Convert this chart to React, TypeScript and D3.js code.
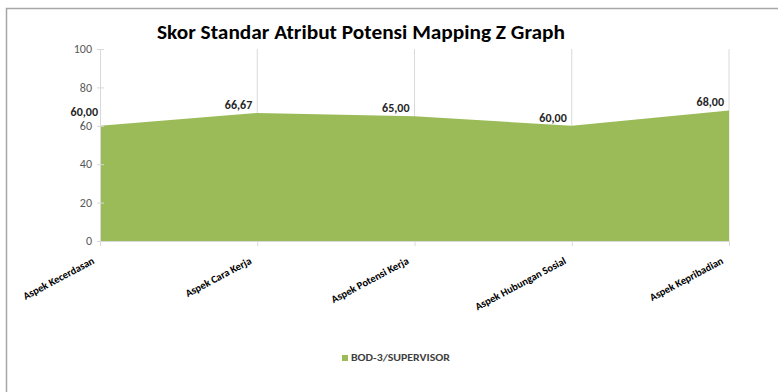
import React, { useEffect, useRef } from 'react';
import * as d3 from 'd3';

const categories = ['Aspek Kecerdasan', 'Aspek Cara Kerja', 'Aspek Potensi Kerja', 'Aspek Hubungan Sosial', 'Aspek Kepribadian'];
const values = [60, 66.67, 65, 60, 68];
const valueLabels = ['60,00', '66,67', '65,00', '60,00', '68,00'];
const yTicks = [0, 20, 40, 60, 80, 100];
const seriesName = 'BOD-3/SUPERVISOR';
const title = 'Skor Standar Atribut Potensi Mapping Z Graph';

const FONT = "Calibri, Carlito, 'Open Sans', 'Noto Sans', sans-serif";
const GREEN = '#9bbb59';

const App: React.FC = () => {
	const svgRef = useRef<SVGSVGElement>(null);

	useEffect(() => {
		if (svgRef.current == null) return;
		const width = 778;
		const height = 392;
		const svg = d3.select(svgRef.current)
			.attr('width', width)
			.attr('height', height);
		svg.selectAll('*').remove();

		// chart frame (right/bottom edges fall outside the picture)
		svg.append('rect')
			.attr('x', 6.5)
			.attr('y', 8.5)
			.attr('width', 820)
			.attr('height', 420)
			.attr('fill', '#fff')
			.attr('stroke', '#a6a6a6')
			.attr('stroke-width', 1.5);

		svg.append('text')
			.attr('x', 361)
			.attr('y', 39)
			.attr('text-anchor', 'middle')
			.attr('textLength', 408)
			.attr('lengthAdjust', 'spacingAndGlyphs')
			.style('font-family', FONT)
			.style('font-weight', 'bold')
			.style('font-size', '20px')
			.style('fill', '#000')
			.text(title);

		const x = d3.scalePoint<string>()
			.domain(categories)
			.range([100, 729]);

		const y = d3.scaleLinear()
			.domain([0, 100])
			.range([241, 49]);

		// vertical gridlines at categories
		categories.slice(1).forEach(c => {
			svg.append('line')
				.attr('x1', x(c)!)
				.attr('x2', x(c)!)
				.attr('y1', y(100))
				.attr('y2', y(0))
				.attr('stroke', '#d9d9d9')
				.attr('stroke-width', 1);
		});

		const area = d3.area<number>()
			.x((_, i) => x(categories[i])!)
			.y0(y(0))
			.y1(d => y(d));

		svg.append('path')
			.datum(values)
			.attr('d', area)
			.attr('fill', GREEN);

		// y axis
		svg.append('line')
			.attr('x1', 100.5).attr('x2', 100.5)
			.attr('y1', y(100)).attr('y2', y(0))
			.attr('stroke', '#d9d9d9');
		yTicks.forEach(t => {
			svg.append('line')
				.attr('x1', 97).attr('x2', 104)
				.attr('y1', y(t) + 0.5).attr('y2', y(t) + 0.5)
				.attr('stroke', '#d9d9d9');
			svg.append('text')
				.attr('x', 92)
				.attr('y', y(t))
				.attr('dy', '0.35em')
				.attr('text-anchor', 'end')
				.style('font-family', FONT)
				.style('font-size', '12px')
				.style('fill', '#595959')
				.text(t);
		});

		// x axis
		svg.append('line')
			.attr('x1', 100).attr('x2', 729)
			.attr('y1', y(0) + 0.5).attr('y2', y(0) + 0.5)
			.attr('stroke', '#d9d9d9');
		categories.forEach(c => {
			svg.append('line')
				.attr('x1', x(c)! + 0.5).attr('x2', x(c)! + 0.5)
				.attr('y1', y(0)).attr('y2', y(0) + 5)
				.attr('stroke', '#d9d9d9');
			svg.append('text')
				.attr('transform', `translate(${x(c)! - 5},${263}) rotate(-28)`)
				.attr('text-anchor', 'end')
				.style('font-family', FONT)
				.style('font-weight', 'bold')
				.style('font-size', '10.5px')
				.style('fill', '#000')
				.text(c);
		});

		// data labels
		values.forEach((v, i) => {
			const px = x(categories[i])!;
			const first = i === 0;
			svg.append('text')
				.attr('x', first ? px - 2 : px - 5)
				.attr('y', first ? y(v) - 10 : y(v) - 4)
				.attr('text-anchor', 'end')
				.style('font-family', FONT)
				.style('font-weight', 'bold')
				.style('font-size', '12px')
				.style('fill', '#262626')
				.text(valueLabels[i]);
		});

		// legend
		svg.append('rect')
			.attr('x', 342)
			.attr('y', 355)
			.attr('width', 6)
			.attr('height', 6)
			.attr('fill', GREEN);
		svg.append('text')
			.attr('x', 351)
			.attr('y', 358)
			.attr('dy', '0.35em')
			.attr('textLength', 99)
			.attr('lengthAdjust', 'spacingAndGlyphs')
			.style('font-family', FONT)
			.style('font-weight', 'bold')
			.style('font-size', '9.5px')
			.style('fill', '#404040')
			.text(seriesName);
	}, []);

	return (
		<>
			<style>{'body{margin:0}'}</style>
			<svg ref={svgRef} style={{ display: 'block' }}></svg>
		</>
	);
};

export default App;
